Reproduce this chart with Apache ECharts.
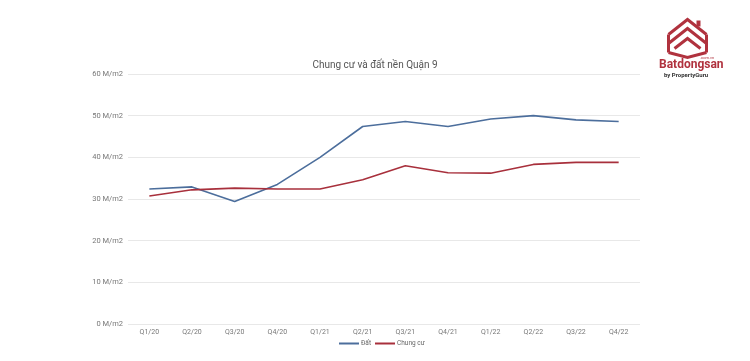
<!DOCTYPE html>
<html><head><meta charset="utf-8">
<script src="https://cdn.jsdelivr.net/npm/echarts@6/dist/echarts.min.js"></script>
<style>html,body{margin:0;padding:0;background:#fff}#c{width:750px;height:361px}</style>
</head><body><div id="c"></div>
<script>
const categories = ['Q1/20','Q2/20','Q3/20','Q4/20','Q1/21','Q2/21','Q3/21','Q4/21','Q1/22','Q2/22','Q3/22','Q4/22'];
const datValues = [32.4, 32.9, 29.4, 33.5, 40.0, 47.4, 48.6, 47.4, 49.2, 50.0, 49.0, 48.6];
const chungCuValues = [30.7, 32.2, 32.6, 32.4, 32.4, 34.6, 38.0, 36.3, 36.2, 38.3, 38.8, 38.8];
const yTicks = [0, 10, 20, 30, 40, 50, 60];

const chart = echarts.init(document.getElementById('c'));
const red = '#b0323e';
chart.setOption({
  backgroundColor: '#fff',
  animation: false,
  title: {text: 'Chung cư và đất nền Quận 9', left: 'center', top: 55,
    textStyle: {fontFamily: 'Roboto', fontSize: 10, fontWeight: 'normal', color: '#555'}},
  legend: {bottom: 9, left: 334, itemWidth: 20, itemHeight: 2, itemGap: 4,
    icon: 'rect',
    textStyle: {fontFamily: 'Roboto', fontSize: 6.5, color: '#666', padding: [0,0,0,-3]},
    data: ['Đất', 'Chung cư']},
  grid: {left: 128, right: 110, top: 74, bottom: 37},
  xAxis: {type: 'category', data: categories, boundaryGap: true,
    axisLine: {show: false}, axisTick: {show: false},
    axisLabel: {fontFamily: 'Roboto', fontSize: 7, color: '#777', margin: 5}},
  yAxis: {type: 'value', min: yTicks[0], max: yTicks[yTicks.length-1], interval: 10,
    axisLine: {show: false}, axisTick: {show: false},
    splitLine: {lineStyle: {color: '#e8e8e8', width: 1}},
    axisLabel: {fontFamily: 'Roboto', fontSize: 7.5, color: '#777', margin: 5,
      formatter: v => v + ' M/m2'}},
  series: [
    {name: 'Đất', type: 'line', data: datValues, symbol: 'none',
      lineStyle: {color: '#4c6e9c', width: 1.6}, itemStyle: {color: '#4c6e9c'}},
    {name: 'Chung cư', type: 'line', data: chungCuValues, symbol: 'none',
      lineStyle: {color: '#a8303c', width: 1.6}, itemStyle: {color: '#a8303c'}}
  ],
  graphic: [
    {type: 'group', left: 666, top: 17, children: [
      {type: 'polyline', shape: {points: [[2,17],[21,2],[40,17]]}, style: {stroke: red, lineWidth: 3, fill: null}},
      {type: 'polyline', shape: {points: [[2,26],[21,11],[40,26]]}, style: {stroke: red, lineWidth: 3, fill: null}},
      {type: 'polyline', shape: {points: [[8,31],[21,21],[34,31]]}, style: {stroke: red, lineWidth: 3, fill: null}},
      {type: 'line', shape: {x1: 2, y1: 17, x2: 2, y2: 35}, style: {stroke: red, lineWidth: 3}},
      {type: 'line', shape: {x1: 40, y1: 17, x2: 40, y2: 35}, style: {stroke: red, lineWidth: 3}},
      {type: 'polyline', shape: {points: [[2,35],[21,40],[40,35]]}, style: {stroke: red, lineWidth: 3, fill: null}},
      {type: 'rect', shape: {x: 30, y: 3, width: 4, height: 6}, style: {fill: red}}
    ]},
    {type: 'text', left: 700, top: 56, style: {text: '.com.vn', font: '4px Roboto', fill: red}},
    {type: 'text', left: 659, top: 59, style: {text: 'Batdongsan', font: 'bold 12px Roboto', fill: red}},
    {type: 'text', left: 664, top: 72, style: {text: 'by PropertyGuru', font: 'bold 6px Roboto', fill: '#333'}}
  ]
});
</script></body></html>
